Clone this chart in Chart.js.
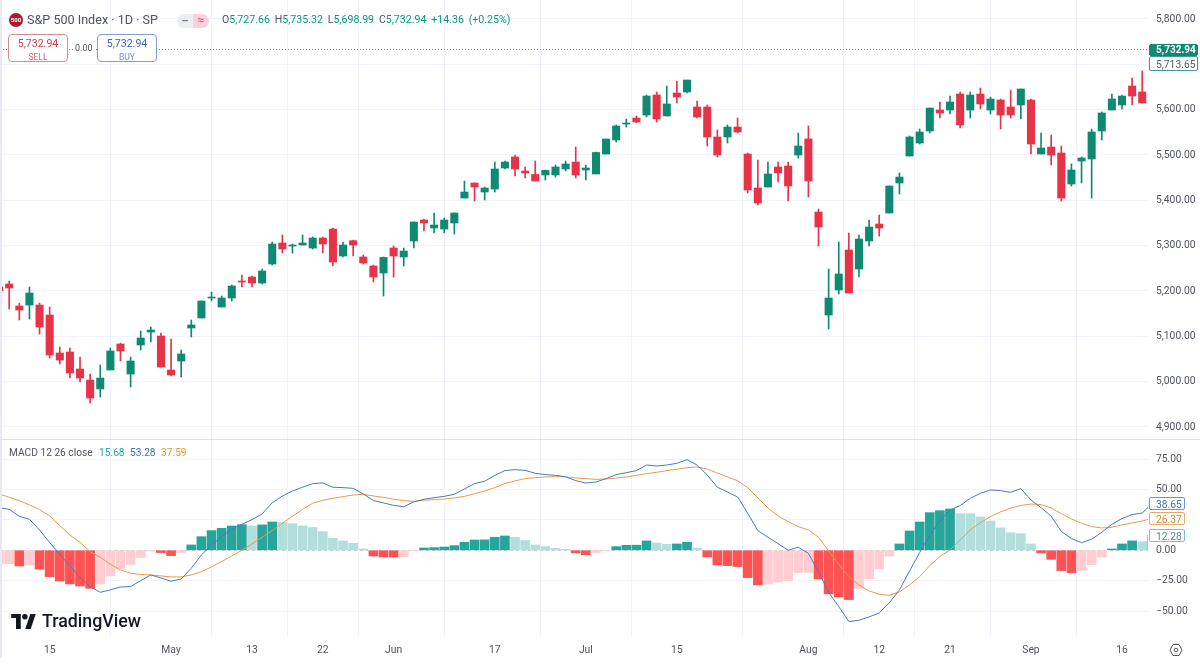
<!DOCTYPE html>
<html><head><meta charset="utf-8">
<style>
html,body{margin:0;padding:0;background:#fff;width:1200px;height:670px;overflow:hidden;font-family:Roboto,"Liberation Sans",sans-serif}
canvas{position:absolute;left:0;display:block}
.t{position:absolute;white-space:nowrap;line-height:1}
.box{position:absolute;box-sizing:border-box;border-radius:4px;background:#fff;border:1px solid;text-align:center}
.tag{position:absolute;box-sizing:border-box;border-radius:2px;background:#fff;border:1px solid;font-size:10.3px;line-height:11px;padding-left:6px;white-space:nowrap}
</style></head><body>
<canvas id="price" width="1200" height="439" style="top:0"></canvas>
<canvas id="macd" width="1200" height="230" style="top:440px"></canvas>
<div style="position:absolute;left:0;top:0;width:2px;height:658px;background:#e9e9f3"></div>
<div style="position:absolute;left:0;top:439px;width:1200px;height:1px;background:#dfe1e6"></div>

<div style="position:absolute;left:9px;top:13px;width:14px;height:14px;border-radius:50%;background:#a8192b;color:#fff;font-size:6px;font-weight:700;line-height:14px;text-align:center">500</div>
<div class="t" style="left:27px;top:14px;font-size:12.6px;color:#50535e">S&amp;P 500 Index · 1D · SP</div>
<div style="position:absolute;left:177px;top:14px;width:16px;height:14px;background:#eceef2;border-radius:7px 0 0 7px;color:#787b86;font-size:11px;line-height:13px;text-align:center;font-weight:700">–</div>
<div style="position:absolute;left:193px;top:14px;width:16px;height:14px;background:#fbd0dc;border-radius:0 7px 7px 0;color:#e0566f;font-size:12px;line-height:13px;text-align:center">≈</div>
<div class="t" style="left:222px;top:15px;font-size:10.6px;color:#089981;word-spacing:2.2px"><span style="color:#50535e">O</span>5,727.66 <span style="color:#50535e">H</span>5,735.32 <span style="color:#50535e">L</span>5,698.99 <span style="color:#50535e">C</span>5,732.94 +14.36 (+0.25%)</div>

<div class="box" style="left:8px;top:34px;width:60px;height:28px;border-color:#d88a8e;color:#d0444e;font-size:10.6px;padding-top:2px">5,732.94<div style="font-size:8.5px;margin-top:2px;color:#d9646c">SELL</div></div>
<div class="t" style="left:73px;top:42px;font-size:9px;color:#50535e;background:#fff;padding:2px">0.00</div>
<div class="box" style="left:97px;top:34px;width:60px;height:28px;border-color:#7f9fd0;color:#3b68b8;font-size:10.6px;padding-top:2px">5,732.94<div style="font-size:8.5px;margin-top:2px;color:#6f8fcb">BUY</div></div>

<div class="tag" style="left:1149px;top:44px;width:49px;height:12px;background:#0f8a72;border-color:#0f8a72;color:#fff;font-weight:700;font-size:10px;line-height:10px">5,732.94</div>
<div class="tag" style="left:1149px;top:56px;width:49px;height:15px;border-color:#3f9c8c;color:#50635e;padding-top:2px">5,713.65</div>

<div class="t" style="left:9px;top:448px;font-size:10.2px;color:#50535e">MACD 12 26 close</div>
<div class="t" style="left:99px;top:448px;font-size:10.2px;color:#26a69a">15.68</div>
<div class="t" style="left:130px;top:448px;font-size:10.2px;color:#3b6fb8">53.28</div>
<div class="t" style="left:161px;top:448px;font-size:10.2px;color:#e0963c">37.59</div>

<div class="tag" style="left:1149px;top:497px;width:36px;height:13px;border-color:#6f93cf;color:#3b6fb8;padding-top:0.5px">38.65</div>
<div class="tag" style="left:1149px;top:512px;width:36px;height:13px;border-color:#e8ac6a;color:#d9822b;padding-top:0.5px">26.37</div>
<div class="tag" style="left:1149px;top:529px;width:36px;height:13px;border-color:#7fc0b8;color:#4d8f88;padding-top:0.5px">12.28</div>

<svg style="position:absolute;left:11px;top:614px" width="25" height="15" viewBox="0 6 36 22"><path fill="#131722" d="M14 6H0v6h7v16h7V6Z"/><path fill="#131722" d="M28 6h8l-7.5 22h-8L28 6Z"/><circle fill="#131722" cx="20" cy="10" r="4"/></svg>
<div class="t" style="left:42px;top:612px;font-size:17.8px;font-weight:500;color:#131722">TradingView</div>
<svg style="position:absolute;left:1169px;top:643px" width="14" height="14" viewBox="0 0 14 14" fill="none" stroke="#50535e" stroke-width="1"><path d="M4 1.5h6L13 7l-3 5.5H4L1 7z"/><circle cx="7" cy="7" r="1.8"/></svg>

<script src="https://cdn.jsdelivr.net/npm/chart.js@4/dist/chart.umd.min.js"></script>
<script>
const tickSlots=[5,17,25,32,39,49,58,67,80,87,94,102,111];
const tickLabels=["15","May","13","22","Jun","17","Jul","15","Aug","12","21","Sep","16"];
const priceTicks=[4900,5000,5100,5200,5300,5400,5500,5600,5700,5800];
const macdTicks=[-50,-25,0,25,50,75];
const lastPrice=5732.94;
const opens=[5208.8,5215.4,5166.9,5169,5169,5147,5063.2,5065.4,5027.9,5003.6,4983.8,
5025.7,5083,5016.9,5080.8,5109.5,5100.7,5025.7,5045.5,5118.3,5140.4,
5184.5,5164.7,5184.5,5222,5230.8,5217.6,5259.5,5305.9,5299.2,5301.4,
5294.8,5316.9,5336.7,5277.2,5311,5275,5255.1,5239.7,5294.8,5275,
5310.3,5356.6,5338.9,5336.7,5350,5405.1,5438.2,5418.3,5425,5471.3,
5495.6,5464.7,5457,5455.9,5455.9,5469.1,5484.5,5466.9,5458.1,5502.2,
5533.1,5568.4,5581.6,5588.2,5632.3,5586,5636.7,5639,5605.9,5605.9,
5539.7,5539.7,5561.7,5502.2,5427.2,5429.4,5473.5,5475.7,5500,5535.3,
5374.2,5147,5202.2,5290.4,5248.5,5310.3,5347.8,5372,5438.2,5497.8,
5526.4,5552.9,5599.2,5599.2,5634.5,5599.2,5634.5,5599.2,5621.3,5605.9,
5610.3,5621.3,5502.2,5517.6,5504.4,5436,5486.7,5491.2,5552.9,5599.2,
5610.3,5652.2,5639];
const highs=[5213.2,5222,5173.4,5208.8,5173.4,5164.7,5076.4,5074.2,5054.4,5016.9,5036.7,
5074.2,5085.2,5054.4,5111.7,5120.5,5107.3,5094.1,5069.8,5136,5177.9,
5197.8,5188.9,5213.2,5235.3,5233.1,5248.5,5308.1,5323.5,5303.6,5323.5,
5319.1,5319.1,5338.9,5308.1,5312.5,5279.4,5257.3,5275,5299.2,5294.8,
5352.2,5358.8,5372,5361,5372,5442.6,5438.2,5429.4,5484.5,5486.7,
5500,5473.5,5486.7,5466.9,5477.9,5486.7,5517.6,5477.9,5506.6,5535.3,
5566.2,5579.4,5586,5632.3,5639,5652.2,5663.2,5665.4,5619,5610.3,
5555.1,5566.2,5581.6,5504.4,5489,5484.5,5484.5,5484.5,5548.5,5564,
5380.8,5248.5,5308.1,5327.9,5323.5,5356.6,5367.6,5431.6,5460.3,5541.9,
5557.3,5603.6,5616.9,5630.1,5639,5639,5647.8,5627.9,5623.5,5643.4,
5645.6,5623.5,5548.5,5544.1,5519.8,5480.1,5495.6,5557.3,5594.8,5634.5,
5632.3,5669.8,5685.3];
const lows=[5195.5,5160.2,5136,5138.2,5105.1,5052.2,5038.9,5008,4999.2,4952.9,4966.1,
5025.7,5045.5,4988.2,5069.8,5087.5,5032.3,5012.4,5010.2,5098.5,5140.4,
5177.9,5164.7,5177.9,5208.8,5208.8,5215.4,5257.3,5283.8,5283.8,5301.4,
5292.6,5283.8,5255.1,5275,5277.2,5259.5,5219.8,5188.9,5230.8,5255.1,
5294.8,5332.3,5327.9,5327.9,5325.7,5405.1,5398.5,5400.7,5418.3,5469.1,
5453.6,5449.2,5442.6,5444.8,5451.4,5464.7,5449.2,5444.8,5458.1,5502.2,
5528.6,5561.7,5571.7,5583.8,5572.8,5586,5614.7,5636.7,5581.6,5519.8,
5495.6,5526.4,5548.5,5416.1,5389.7,5429.4,5440.4,5398.5,5493.4,5407.3,
5299.2,5116.1,5193.3,5195.5,5230.8,5299.2,5321.3,5372,5413.9,5497.8,
5524.2,5548.5,5581.6,5590.4,5559.5,5581.6,5601.4,5590.4,5557.3,5581.6,
5579.4,5502.2,5502.2,5477.9,5398.5,5431.6,5438.2,5405.1,5533.1,5599.2,
5601.4,5610.3,5614.7];
const closes=[5200,5206.6,5158,5195.5,5120.5,5058.8,5047.7,5019.1,5008,4963.9,5008,
5067.6,5067.6,5045.5,5096.3,5113.9,5032.3,5014.7,5061,5125,5177.9,
5186.7,5184.5,5211,5219.8,5217.6,5244.1,5303.6,5292.6,5301.4,5305.9,
5316.9,5303.6,5263.9,5301.4,5301.4,5261.7,5230.8,5274,5277.2,5288.2,
5352.2,5350,5345.6,5356.6,5372,5418.3,5429.4,5427.2,5469.1,5484.5,
5469.1,5460.3,5442.6,5466,5473.5,5480.1,5455.9,5471.3,5505.5,5535.3,
5564,5570.6,5572.8,5630.1,5579.4,5612.5,5627.9,5665.4,5583.8,5539.7,
5500,5561.7,5550.7,5422.8,5394.1,5458.1,5460.3,5431.6,5519.8,5442.6,
5341.1,5184.5,5237.5,5195.5,5314.7,5341.1,5338.9,5431.6,5451.4,5539.7,
5550.7,5603.6,5592.6,5616.9,5566.2,5632.3,5612.5,5623.5,5588.2,5588.2,
5645.6,5524.2,5515.4,5500,5405.1,5466.9,5493.4,5550.7,5592.6,5623.5,
5630.1,5630.1,5614.7];
const histogram=[-11.2,-11,-12.9,-12.1,-15.6,-21.7,-25.2,-27.7,-29.4,-31.3,-27.7,
-21.1,-15.4,-11.5,-6,-0.6,-1.9,-4.4,-1.9,4.4,11.2,
16.2,18.1,20,21.1,20,20.9,23.3,22.8,21.9,20,
18.7,15.4,9.9,7.7,5.8,1.1,-4.7,-5.5,-5.6,-5.2,
-0.3,1.9,2.2,2.7,3.8,6.6,8.5,8.6,10.7,11.8,
10.7,8,4.4,3,1.6,0.8,-2.2,-3.6,-1.9,-0.2,
3,4.1,4.2,7.7,6,4.9,5.2,6.6,1.9,-5.5,
-12.1,-12.6,-13.4,-22.5,-28.5,-27.7,-26.1,-25,-18.4,-18.2,
-23.6,-35.9,-38.4,-40.6,-31.5,-23.3,-15.4,-4.7,5.2,15.9,
23.3,31,32.6,34,30.2,30.2,27.4,24.1,18.4,14.5,
13.7,5.2,-2.2,-7.4,-16.7,-18.4,-16.7,-11.8,-5.5,1.1,
5.2,7.7,7.1,12.28];
const macdLine=[35.1,33.7,28,25.5,16.7,6.3,-3.3,-12.9,-22.2,-29.9,-34.6,
-32.6,-30.2,-29.9,-25,-20.3,-22.8,-25.5,-23.6,-14.8,-3.8,
4.4,11.2,17.3,21.4,25.2,29.9,39.2,44.7,48.8,51.9,
54.9,55.4,51.9,51.6,51,46.4,40.9,39,37,35.9,
39.8,42,43.3,44.4,46.1,50.5,54.9,56.8,61.7,65.6,
66.4,65.8,63.4,62.3,61.7,60.6,57.3,55.4,56.2,59,
62.3,63.9,65.6,70.2,69.4,70.2,71.6,74.6,70.2,62,
51.9,48,43.9,30.5,16.2,10.7,5.5,0,2.5,-2.5,
-17.6,-34.6,-46.4,-58.7,-57.6,-54.9,-51.6,-43.3,-32.6,-17,
-1.9,12.6,24.1,33.2,36.8,42.8,46.9,49.7,49.1,47.7,
50.8,41.4,35.1,28,15.6,9.6,6.3,9.1,14.8,21.4,
26.1,29.4,30.7,38.65];
const signalLine=[46.4,43.6,40.9,37.3,33.5,28.3,20.3,12.6,6.6,-1.1,-5.8,
-11.5,-16.2,-18.9,-20,-20.3,-21.1,-21.9,-21.9,-20.3,-17.6,
-13.7,-9.3,-4.7,0,5.2,10.7,16.2,22.2,28,33.7,
38.7,41.2,42.8,44.2,45.5,46.1,44.7,43.6,42,40.9,
40.3,41.2,41.7,42.2,43.1,44.4,46.6,48.8,51.6,54.9,
57.1,59,59.8,60.4,60.6,60.4,59.5,59,58.4,58.7,
59.5,60.4,61.7,63.1,64.2,65.6,66.7,68,68.6,66.9,
63.6,60.4,57.3,51.6,43.3,34.8,28.3,23.6,19.5,16.7,
10.7,-0.5,-11.5,-21.7,-28.5,-33.5,-36.2,-37,-34.3,-28.5,
-21.7,-12.6,-5.2,0.3,8.5,16.7,22.8,27.7,31.6,34.8,
36.8,38.1,37.6,34.8,30.2,25.8,22.2,19.5,18.4,18.9,
20.9,22.5,24.1,26.37];

const GREEN='#0f8a72',RED='#e63347',GRID='#f0f3fa',TXT='#50535e';
const XMIN=0.09,XMAX=113.57,AXIS_W=52;
const font={family:'Roboto, "Liberation Sans", sans-serif',size:10.3};
const fmt=v=>(v<0?'\u2212':'')+Math.abs(v).toLocaleString('en-US',{minimumFractionDigits:2,maximumFractionDigits:2});
const noPad=a=>{a.paddingTop=a.paddingBottom=a.paddingLeft=a.paddingRight=0};

function xScale(showLabels,height){return{
  type:'linear',min:XMIN,max:XMAX,offset:false,
  afterBuildTicks(a){a.ticks=tickSlots.map(v=>({value:v}))},
  afterFit(a){a.height=height;noPad(a)},
  border:{display:false},
  grid:{color:GRID,lineWidth:1,drawTicks:false},
  ticks:{display:showLabels,autoSkip:false,maxRotation:0,padding:7,color:TXT,font,
    callback:v=>tickLabels[tickSlots.indexOf(v)]}
}}
function yScale(min,max,list){return{
  type:'linear',position:'right',min,max,
  afterBuildTicks(a){a.ticks=list.map(v=>({value:v}))},
  afterFit(a){a.width=AXIS_W;noPad(a)},
  border:{display:false},
  grid:{color:GRID,lineWidth:1,drawTicks:false},
  ticks:{autoSkip:false,padding:8,color:TXT,font,callback:fmt}
}}
const base={responsive:false,animation:false,devicePixelRatio:1,
  layout:{padding:0,autoPadding:false},plugins:{legend:{display:false},tooltip:{enabled:false}},
  datasets:{bar:{grouped:false}}};

const candleColor=opens.map((o,i)=>closes[i]>=o?GREEN:RED);
const lastLine={id:'lastLine',beforeDatasetsDraw(c){
  const y=Math.round(c.scales.y.getPixelForValue(lastPrice))+0.5,g=c.ctx;
  g.save();g.strokeStyle='#4a9c8d';g.lineWidth=1;g.setLineDash([1,2]);
  g.beginPath();g.moveTo(0,y);g.lineTo(c.chartArea.right,y);g.stroke();g.restore();}};
new Chart(document.getElementById('price'),{type:'bar',plugins:[lastLine],
  data:{datasets:[
    {order:2,barThickness:1,backgroundColor:candleColor,data:highs.map((h,i)=>({x:i,y:[lows[i],h]}))},
    {order:1,barThickness:7.4,backgroundColor:candleColor,data:opens.map((o,i)=>({x:i,y:[o,closes[i]]}))}
  ]},
  options:{...base,scales:{x:xScale(false,0),y:yScale(4873.5,5841.9,priceTicks)}}
});

const histColor=histogram.map((v,i)=>{
  const p=i?histogram[i-1]:v;
  if(v>=0)return v>p?'#26a69a':'#b2dfdb';
  return v<p?'#ff5252':'#ffcdd2';
});
const zeroLine={id:'zeroLine',beforeDatasetsDraw(c){
  const y=Math.round(c.scales.y.getPixelForValue(0))+0.5,g=c.ctx;
  g.save();g.strokeStyle='#c9ccd4';g.lineWidth=1;g.setLineDash([3,3]);
  g.beginPath();g.moveTo(0,y);g.lineTo(c.chartArea.right,y);g.stroke();g.restore();}};
new Chart(document.getElementById('macd'),{type:'bar',plugins:[zeroLine],
  data:{datasets:[
    {order:3,barThickness:9,backgroundColor:histColor,data:histogram.map((v,i)=>({x:i,y:[0,v]}))},
    {order:1,type:'line',borderColor:'#4a78c0',borderWidth:1,pointRadius:0,tension:0,data:macdLine.map((v,i)=>({x:i,y:v}))},
    {order:2,type:'line',borderColor:'#e89a50',borderWidth:1,pointRadius:0,tension:0,data:signalLine.map((v,i)=>({x:i,y:v}))}
  ]},
  options:{...base,scales:{x:xScale(true,33),y:yScale(-71.4,90.8,macdTicks)}}
});
</script>
</body></html>
